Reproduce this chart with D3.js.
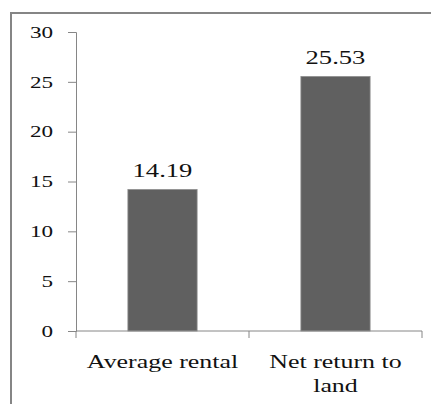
<!DOCTYPE html>
<html>
<head>
<meta charset="utf-8">
<script src="https://cdn.jsdelivr.net/npm/d3@7"></script>
<style>
  body { margin: 0; background: #fff; }
  text { font-family: "Liberation Serif", serif; fill: #111; }
</style>
</head>
<body>
<div id="chart"></div>
<script>
// Data
const categories = ["Average rental", "Net return to land"];
const values = [14.19, 25.53];
const yTicks = [0, 5, 10, 15, 20, 25, 30];

const width = 431;
const height = 404;
const plot = { left: 76, right: 422, top: 32, bottom: 331 };
const stretch = 1.4; // the reference type is set very wide

const svg = d3.select("#chart")
    .append("svg")
    .attr("width", width)
    .attr("height", height);

// widen a text element horizontally, keeping its anchor
function widen(sel) {
    sel.each(function() {
        const len = this.getComputedTextLength();
        d3.select(this)
            .attr("textLength", len * stretch)
            .attr("lengthAdjust", "spacingAndGlyphs");
    });
}

// Outer chart frame (only top/left edges fall inside the picture)
svg.append("rect")
    .attr("x", 11)
    .attr("y", 13)
    .attr("width", 440)
    .attr("height", 420)
    .attr("fill", "none")
    .attr("stroke", "#858585")
    .attr("stroke-width", 2);

// Scales
const x = d3.scaleBand()
    .domain(categories)
    .range([plot.left, plot.right])
    .paddingInner(0.6)
    .paddingOuter(0.3);

const y = d3.scaleLinear()
    .domain([0, 30])
    .range([plot.bottom, plot.top]);

// Y axis
const yAxis = svg.append("g")
    .attr("transform", `translate(${plot.left},0)`)
    .call(d3.axisLeft(y).tickValues(yTicks).tickSize(8).tickPadding(15));
yAxis.selectAll("path, line").attr("stroke", "#868686");
yAxis.selectAll("text")
    .style("font-family", "Liberation Serif")
    .style("font-size", "16.5px")
    .attr("fill", "#111")
    .call(widen);

// Bars
svg.selectAll("rect.bar")
    .data(values)
    .enter()
    .append("rect")
    .attr("class", "bar")
    .attr("x", (d, i) => x(categories[i]))
    .attr("y", d => y(d))
    .attr("width", x.bandwidth())
    .attr("height", d => y(0) - y(d))
    .attr("fill", "#606060")
    .attr("stroke", "#8c8c8c")
    .attr("stroke-width", 0.8);

// Value labels
svg.selectAll("text.value")
    .data(values)
    .enter()
    .append("text")
    .attr("class", "value")
    .attr("x", (d, i) => x(categories[i]) + x.bandwidth() / 2)
    .attr("y", d => y(d) - 12.5)
    .attr("text-anchor", "middle")
    .style("font-size", "19px")
    .text(d => d.toFixed(2))
    .call(widen);

// X axis: domain line plus ticks at category boundaries
const step = x.step();
const bounds = [plot.left, ...categories.map(c => x(c) - x.paddingOuter() * step + step)];
const xAxis = svg.append("g");
xAxis.append("line")
    .attr("x1", plot.left)
    .attr("x2", plot.right)
    .attr("y1", y(0))
    .attr("y2", y(0))
    .attr("stroke", "#868686");
xAxis.selectAll("line.tick")
    .data(bounds)
    .enter()
    .append("line")
    .attr("class", "tick")
    .attr("x1", d => d)
    .attr("x2", d => d)
    .attr("y1", y(0))
    .attr("y2", y(0) + 7)
    .attr("stroke", "#868686");

// Category labels, wrapped to fit under each band
const labels = xAxis.selectAll("text.cat")
    .data(categories)
    .enter()
    .append("text")
    .attr("class", "cat")
    .attr("text-anchor", "middle")
    .attr("x", d => x(d) + x.bandwidth() / 2)
    .attr("y", y(0) + 37)
    .style("font-size", "18.5px");

labels.each(function(d) {
    const t = d3.select(this);
    const words = d.split(" ");
    let line = [];
    let tspan = t.append("tspan").attr("x", t.attr("x")).attr("dy", 0);
    words.forEach(w => {
        line.push(w);
        tspan.text(line.join(" "));
        if (tspan.node().getComputedTextLength() * stretch > 155 && line.length > 1) {
            line.pop();
            tspan.text(line.join(" "));
            line = [w];
            tspan = t.append("tspan").attr("x", t.attr("x")).attr("dy", 24).text(w);
        }
    });
    t.selectAll("tspan").call(widen);
});
</script>
</body>
</html>
